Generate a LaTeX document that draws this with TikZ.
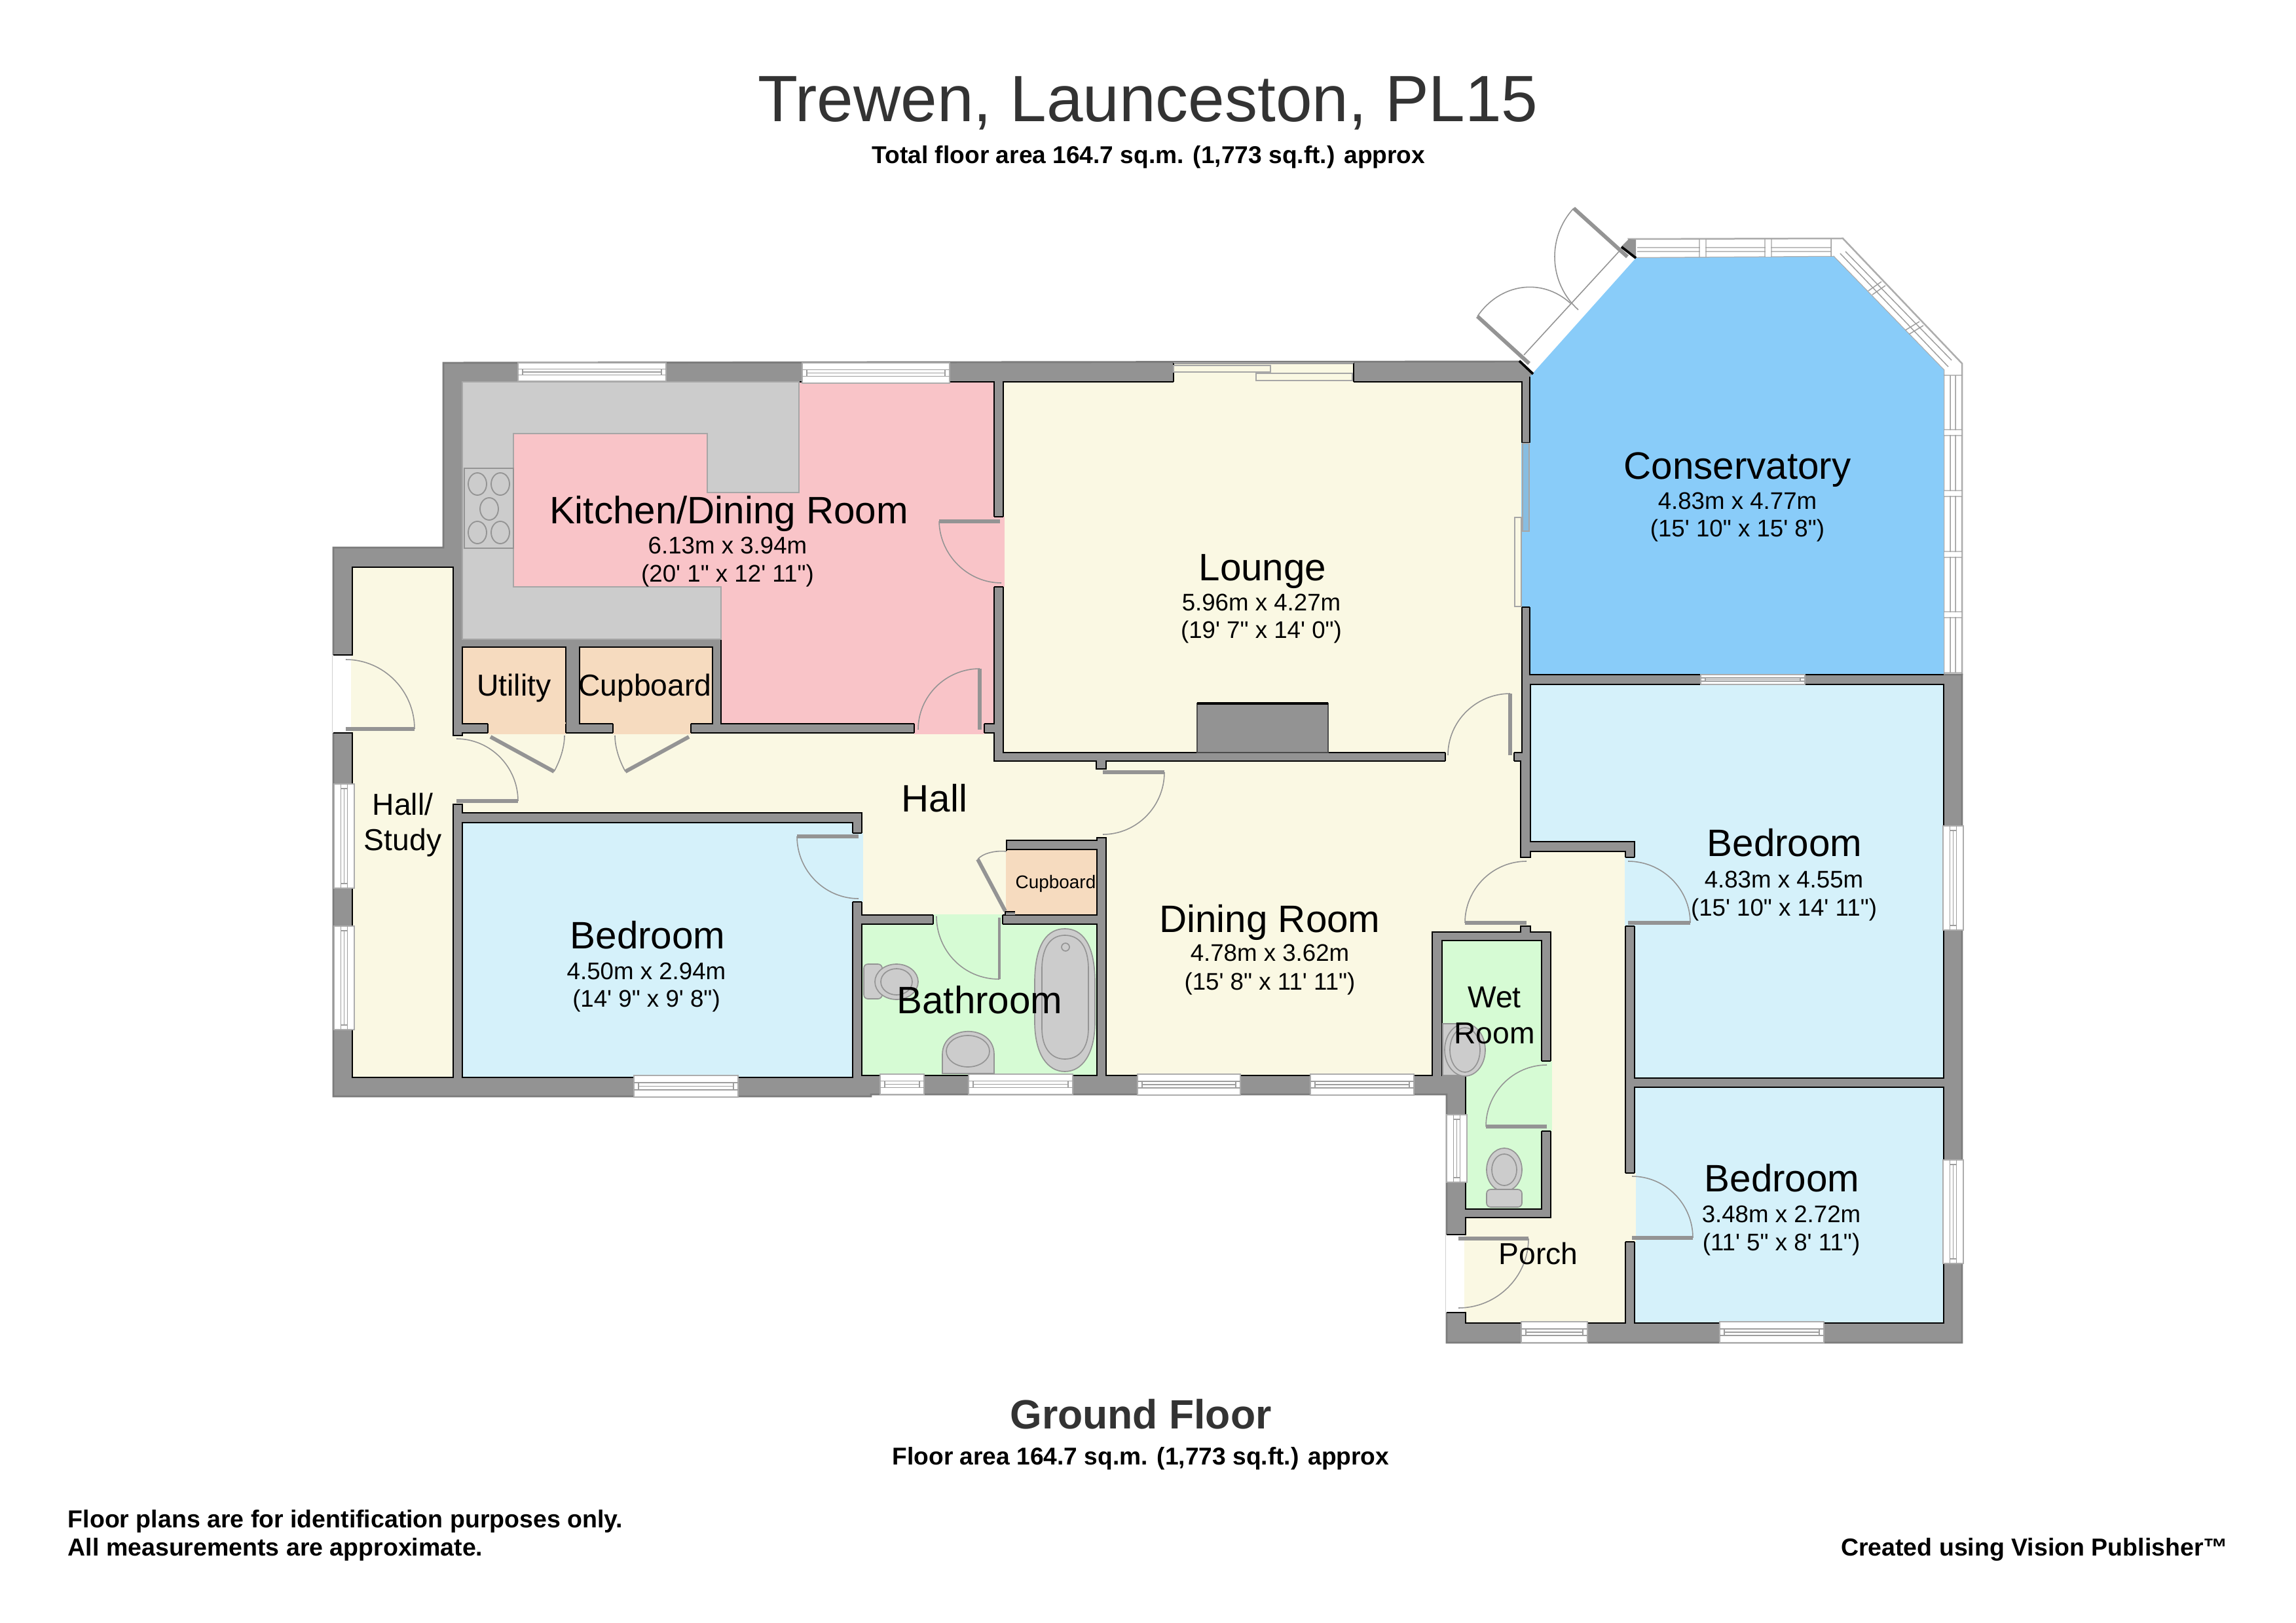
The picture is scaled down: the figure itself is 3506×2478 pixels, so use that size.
\documentclass[tikz,border=0pt]{standalone}
\usepackage{fontspec}
\setmainfont{Liberation Sans}
\definecolor{wallc}{HTML}{939393}
\definecolor{walle}{HTML}{7C7C7C}
\definecolor{creamc}{HTML}{FAF8E3}
\definecolor{pinkc}{HTML}{F9C4C8}
\definecolor{counterc}{HTML}{CCCCCC}
\definecolor{blueC}{HTML}{89CCF9}
\definecolor{lblueC}{HTML}{D5F1FA}
\definecolor{greenC}{HTML}{D6FBD4}
\definecolor{peachC}{HTML}{F6DBBF}
\definecolor{titlec}{HTML}{333333}
\newcommand\fq{\textquotesingle}
\newcommand\iq{\textquotedbl}
\tikzset{
  rm/.style={draw=black,line width=0.6pt,line join=miter},
  jamb/.style={draw=black,line width=0.6pt},
  winst/.style={fill=white,draw=black!32,line width=0.45pt},
  winl/.style={draw=black!38,line width=0.35pt},
  leafst/.style={draw=black!42,line width=1.4pt},
  swing/.style={draw=black!42,line width=0.38pt},
  fixt/.style={fill=counterc,draw=black!42,line width=0.4pt},
  big/.style={anchor=base,inner sep=0pt,font=\fontsize{14}{16}\selectfont},
  mid/.style={anchor=base,inner sep=0pt,font=\fontsize{11.1}{13}\selectfont},
  dimt/.style={anchor=base,inner sep=0pt,font=\fontsize{8.8}{10}\selectfont},
  tiny/.style={anchor=base,inner sep=0pt,font=\fontsize{6.7}{8}\selectfont},
  boldt/.style={anchor=base,inner sep=0pt,font=\fontsize{8.92}{10}\selectfont\bfseries},
  boldn/.style={inner sep=0pt,font=\fontsize{9}{10}\selectfont\bfseries},
}
\newcommand\gapV[5]{\fill[#1] (#2-1.5,#4) rectangle (#3+1.5,#5);
  \draw[jamb] (#2,#4)--(#3,#4) (#2,#5)--(#3,#5);}
\newcommand\gapH[5]{\fill[#1] (#2,#4-1.5) rectangle (#3,#5+1.5);
  \draw[jamb] (#2,#4)--(#2,#5) (#3,#4)--(#3,#5);}
\newcommand\winH[4]{\draw[winst] (#1,#2) rectangle (#3,#4);
  \pgfmathsetmacro\wa{#2+0.34*(#4-#2)}\pgfmathsetmacro\wb{#2+0.5*(#4-#2)}\pgfmathsetmacro\wc{#2+0.66*(#4-#2)}
  \pgfmathsetmacro\wl{#1+7}\pgfmathsetmacro\wr{#3-7}
  \draw[winl] (#1,\wa)--(#3,\wa) (#1,\wc)--(#3,\wc) (\wl,\wb)--(\wr,\wb) (\wl,\wa)--(\wl,\wc) (\wr,\wa)--(\wr,\wc);}
\newcommand\winV[4]{\draw[winst] (#1,#2) rectangle (#3,#4);
  \pgfmathsetmacro\wa{#1+0.34*(#3-#1)}\pgfmathsetmacro\wb{#1+0.5*(#3-#1)}\pgfmathsetmacro\wc{#1+0.66*(#3-#1)}
  \pgfmathsetmacro\wl{#2+7}\pgfmathsetmacro\wr{#4-7}
  \draw[winl] (\wa,#2)--(\wa,#4) (\wc,#2)--(\wc,#4) (\wb,\wl)--(\wb,\wr) (\wa,\wl)--(\wc,\wl) (\wa,\wr)--(\wc,\wr);}
\newcommand\door[6]{\draw[leafst] (#1,#2)--(#3,#4);
  \pgfmathsetmacro\ca{#3+0.55*(#5-#1)}\pgfmathsetmacro\cb{#4+0.55*(#6-#2)}
  \pgfmathsetmacro\cc{#5+0.55*(#3-#1)}\pgfmathsetmacro\cd{#6+0.55*(#4-#2)}
  \draw[swing] (#3,#4) .. controls (\ca,\cb) and (\cc,\cd) .. (#5,#6);}
\begin{document}
\begin{tikzpicture}[x=0.24pt,y=-0.24pt]
\useasboundingbox (0,0) rectangle (3506,2478);
\fill[white] (0,0) rectangle (3506,2478);
% conservatory glazing
\draw[winst,line width=0.6pt] (2487,365)--(2814,364)--(2996,555)--(2996,1030)--(2968,1030)--(2968,565)--(2800,392)--(2498,394)--cycle;
\draw[winl] (2500,378)--(2796,378) (2500,384)--(2796,384)
  (2595,365)--(2595,393) (2605,365)--(2605,393) (2695,365)--(2695,393) (2705,365)--(2705,393) (2796,365)--(2796,392)
  (2810,387)--(2975,560) (2818,384)--(2980,550)
  (2853,444)--(2873,430) (2859,450)--(2879,436) (2908,505)--(2931,491) (2914,511)--(2937,497)
  (2968,573)--(2996,573) (2978,573)--(2978,1027) (2986,573)--(2986,1027) (2968,1027)--(2996,1027)
  (2968,656)--(2996,656) (2968,665)--(2996,665) (2968,749)--(2996,749) (2968,758)--(2996,758)
  (2968,842)--(2996,842) (2968,851)--(2996,851) (2968,934)--(2996,934) (2968,943)--(2996,943);
\fill[white] (2596,366) rectangle (2604,392) (2696,366) rectangle (2704,392)
  (2969,657) rectangle (2995,664) (2969,750) rectangle (2995,757) (2969,843) rectangle (2995,850) (2969,935) rectangle (2995,942);
% house shell
\draw[fill=wallc,draw=walle,line width=0.7pt,line join=miter] (677,554)--(2320,552)--(2341,571)--(2336,585)--(2336,1030)--(2996,1030)--(2996,2050)--(2209,2050)--(2209,1671)--(1330,1671)--(1330,1674)--(509,1674)--(509,836)--(677,836)--cycle;
% conservatory
\fill[blueC] (2336,575)--(2498,394)--(2800,392)--(2968,565)--(2968,1030)--(2336,1030)--cycle;
\draw[jamb] (2336,575)--(2336,1030)--(2968,1030);
% door corner of the conservatory
\fill[wallc] (2487,365)--(2498,366)--(2498,394)--(2476,376)--cycle;
\draw[jamb,line width=0.9pt] (2320,551)--(2341,571) (2476,377)--(2498,394);
\draw[swing] (2327,542)--(2474,382);
% rooms
\draw[rm,fill=creamc] (538,866)--(692,866)--(692,1123)--(706,1123)--(706,1119)--(1518,1119)--(1518,1162)--(1674,1162)--(1674,1174)--(1689,1174)--(1689,1162)--(2207,1162)--(2207,1149)--(2312,1149)--(2312,1162)--(2322,1162)--(2322,1309)--(2337,1309)--(2337,1300)--(2482,1300)--(2482,2020)--(2238,2020)--(2238,1859)--(2368,1859)--(2368,1423)--(2337,1423)--(2337,1414)--(2322,1414)--(2322,1423)--(2187,1423)--(2187,1642)--(1689,1642)--(1689,1279)--(1675,1279)--(1675,1283)--(1537,1283)--(1537,1397)--(1316,1397)--(1316,1241)--(706,1241)--(706,1228)--(692,1228)--(692,1645)--(538,1645)--cycle;
\draw[rm,fill=pinkc] (706,583)--(1518,583)--(1518,1105)--(1101,1105)--(1101,976)--(706,976)--cycle;
\draw[rm,fill=peachC] (706,988) rectangle (864,1105);
\draw[rm,fill=peachC] (885,988) rectangle (1088,1105);
\draw[rm,fill=creamc] (1532,583) rectangle (2324,1149);
\draw[rm,fill=lblueC] (706,1256) rectangle (1302,1645);
\draw[rm,fill=greenC] (1316,1411) rectangle (1675,1642);
\draw[rm,fill=peachC] (1537,1297) rectangle (1675,1397);
\draw[rm,fill=lblueC] (2337,1045)--(2968,1045)--(2968,1646)--(2496,1646)--(2496,1285)--(2337,1285)--cycle;
\draw[rm,fill=lblueC] (2496,1660) rectangle (2968,2020);
\draw[rm,fill=greenC] (2202,1436)--(2354,1436)--(2354,1846)--(2238,1846)--(2238,1642)--(2202,1642)--cycle;
% kitchen worktop and hob
\draw[fill=counterc,draw=black!35,line width=0.45pt] (706,583)--(1220,583)--(1220,752)--(1080,752)--(1080,662)--(784,662)--(784,896)--(1101,896)--(1101,976)--(706,976)--cycle;
\draw[fill=counterc,draw=black!42,line width=0.45pt] (709,715) rectangle (784,837);
\foreach \hx/\hy in {729/739,764/739,747/777,729/813,764/813}
  \draw[draw=black!42,line width=0.45pt] (\hx,\hy) ellipse [x radius=14,y radius=17];
% fireplace
\draw[fill=wallc,draw=black!70,line width=0.3pt] (1828,1074) rectangle (2028,1149);
\draw[jamb,line width=0.9pt] (1828,1074)--(2028,1074);
% door openings
\gapV{pinkc}{1518}{1532}{789}{896}
\gapH{pinkc}{1396}{1503}{1105}{1119}
\gapH{peachC}{745}{864}{1105}{1119}
\gapH{peachC}{936}{1055}{1105}{1119}
\gapH{greenC}{1425}{1531}{1397}{1411}
\gapV{lblueC}{1302}{1316}{1272}{1377}
\gapH{creamc}{2207}{2312}{1149}{1162}
\gapV{lblueC}{2482}{2496}{1309}{1414}
\gapV{creamc}{2482}{2496}{1791}{1896}
\gapV{greenC}{2354}{2368}{1620}{1727}
\fill[peachC] (1535.5,1298.5) rectangle (1539,1391);
\fill[white] (508,1000) rectangle (536,1119);
\fill[creamc] (536,1001) rectangle (540,1118);
\draw[jamb] (509,1000)--(538,1000) (509,1119)--(538,1119);
\fill[white] (2208,1885) rectangle (2236,2004);
\fill[creamc] (2236,1886) rectangle (2240,2003);
\draw[jamb] (2209,1885)--(2238,1885) (2209,2004)--(2238,2004);
% slider to the conservatory
\fill[blueC] (2322.5,676) rectangle (2338,927);
\draw[jamb] (2324,676)--(2336,676) (2324,927)--(2336,927);
\draw[fill=blueC!80!gray,draw=black!35,line width=0.45pt] (2325,677) rectangle (2335,811);
\draw[fill=creamc,draw=black!35,line width=0.45pt] (2313,790) rectangle (2323,926);
% slider in the lounge
\fill[creamc] (1792,556) rectangle (2067,585);
\draw[jamb] (1792,554)--(1792,583) (2067,554)--(2067,583);
\draw[draw=black!35,line width=0.45pt] (1792,554)--(2067,554);
\draw[fill=creamc,draw=black!35,line width=0.45pt] (1792,558) rectangle (1940,568);
\draw[fill=creamc,draw=black!35,line width=0.45pt] (1918,570) rectangle (2065,581);
% small stub beside the cupboard
\fill[wallc] (1535,1392) rectangle (1550,1397);
\draw[jamb] (1535,1397)--(1535,1392)--(1550,1392);
% windows
\winH{791}{554}{1017}{582}
\winH{1225}{554}{1450}{585}
\winH{968}{1642}{1127}{1675}
\winH{1344}{1640}{1411}{1671}
\winH{1479}{1640}{1638}{1671}
\winH{1737}{1640}{1894}{1672}
\winH{2001}{1640}{2159}{1672}
\winH{2597}{1030}{2756}{1045}
\winH{2323}{2018}{2424}{2050}
\winH{2626}{2018}{2785}{2050}
\winV{510}{1197}{541}{1356}
\winV{510}{1414}{541}{1572}
\winV{2209}{1702}{2240}{1805}
\winV{2967}{1261}{2998}{1420}
\winV{2967}{1771}{2998}{1929}
% bathroom fittings
\draw[fixt] (1580,1500) .. controls (1580,1440) and (1600,1418) .. (1626,1418) .. controls (1652,1418) and (1672,1440) .. (1672,1500) -- (1672,1560) .. controls (1672,1610) and (1652,1636) .. (1626,1636) .. controls (1600,1636) and (1580,1610) .. (1580,1560) -- cycle;
\draw[fixt] (1591,1480) .. controls (1591,1445) and (1605,1428) .. (1626,1428) .. controls (1648,1428) and (1662,1445) .. (1662,1480) -- (1662,1570) .. controls (1662,1600) and (1648,1617) .. (1626,1617) .. controls (1605,1617) and (1591,1600) .. (1591,1570) -- cycle;
\draw[fixt] (1627,1446) ellipse [x radius=6,y radius=6];
\draw[fixt,rounded corners=1.5pt] (1319,1472) rectangle (1347,1525);
\draw[fixt] (1369,1499) ellipse [x radius=33,y radius=27];
\draw[fixt] (1369,1499) ellipse [x radius=24,y radius=20];
\draw[fixt] (1439,1639)--(1439,1610) .. controls (1439,1563) and (1518,1563) .. (1518,1610)--(1518,1639)--cycle;
\draw[fixt] (1478,1605) ellipse [x radius=33,y radius=24];
% wet room fittings
\draw[fixt] (2203,1563) rectangle (2236,1642);
\draw[fixt] (2237,1603) ellipse [x radius=31,y radius=40];
\draw[fixt] (2237,1603) ellipse [x radius=23,y radius=34];
\draw[fixt] (2297,1786) ellipse [x radius=27,y radius=33];
\draw[fixt] (2297,1786) ellipse [x radius=19,y radius=24];
\draw[fixt,rounded corners=1.5pt] (2270,1816) rectangle (2324,1843);
% doors
\door{1527}{796}{1434}{796}{1529}{890}
\door{1496}{1114}{1496}{1021}{1402}{1114}
\door{528}{1113}{633}{1113}{528}{1007}
\door{697}{1223}{791}{1223}{697}{1128}
\door{1311}{1277}{1217}{1277}{1311}{1372}
\door{1684}{1179}{1778}{1179}{1684}{1274}
\door{2306}{1153}{2306}{1059}{2211}{1153}
\door{2486}{1409}{2581}{1409}{2486}{1315}
\door{2331}{1409}{2237}{1409}{2331}{1315}
\door{2362}{1720}{2269}{1720}{2362}{1626}
\door{2227}{1891}{2334}{1891}{2227}{1997}
\door{2492}{1890}{2585}{1890}{2492}{1796}
\door{2335}{555}{2256}{483}{2398}{463}
\door{2485}{392}{2403}{318}{2410}{473}
\draw[leafst,line width=0.9pt] (1526,1401)--(1526,1495);
\draw[swing] (1526,1495) .. controls (1470,1495) and (1430,1450) .. (1430,1399);
\draw[leafst] (749,1125)--(846,1178);
\draw[swing] (846,1178) .. controls (856,1160) and (862,1140) .. (862,1123);
\draw[leafst] (1052,1125)--(955,1178);
\draw[swing] (955,1178) .. controls (945,1160) and (939,1140) .. (939,1123);
\draw[leafst] (1535,1391)--(1493,1312);
\draw[swing] (1493,1312) .. controls (1500,1303) and (1520,1298) .. (1537,1300);
% texts
\node[anchor=base,inner sep=0pt,text=titlec,font=\fontsize{24}{28}\selectfont] (title) at (1753,186) {Trewen, Launceston, PL15};
\node[boldt] (subtitle) at (1754,250) {Total floor area 164.7 sq.m. (1,773 sq.ft.) approx};
\node[big] (kname) at (1113,800) {Kitchen/Dining Room};
\node[dimt] (kd1) at (1111,846) {6.13m x 3.94m};
\node[dimt] (kd2) at (1111,889) {(20\fq{} 1\iq{} x 12\fq{} 11\iq{})};
\node[mid] (util) at (785,1062) {Utility};
\node[mid] (cup1) at (985,1062) {Cupboard};
\node[big] (hall) at (1427,1239) {Hall};
\node[mid] (hs1) at (615,1245) {Hall/};
\node[mid] (hs2) at (615,1298) {Study};
\node[big] (bed1) at (989,1448) {Bedroom};
\node[dimt] (bed1a) at (987,1495) {4.50m x 2.94m};
\node[dimt] (bed1b) at (987,1537) {(14\fq{} 9\iq{} x 9\fq{} 8\iq{})};
\node[big] (bath) at (1496,1547) {Bathroom};
\node[tiny] (cup2) at (1612,1356) {Cupboard};
\node[big] (lounge) at (1928,887) {Lounge};
\node[dimt] (la) at (1926,933) {5.96m x 4.27m};
\node[dimt] (lb) at (1926,975) {(19\fq{} 7\iq{} x 14\fq{} 0\iq{})};
\node[big] (cons) at (2653,732) {Conservatory};
\node[dimt] (ca) at (2653,778) {4.83m x 4.77m};
\node[dimt] (cb) at (2653,820) {(15\fq{} 10\iq{} x 15\fq{} 8\iq{})};
\node[big] (dine) at (1939,1423) {Dining Room};
\node[dimt] (da) at (1939,1467) {4.78m x 3.62m};
\node[dimt] (db) at (1939,1511) {(15\fq{} 8\iq{} x 11\fq{} 11\iq{})};
\node[big] (bed2) at (2725,1308) {Bedroom};
\node[dimt] (bed2a) at (2724,1355) {4.83m x 4.55m};
\node[dimt] (bed2b) at (2724,1398) {(15\fq{} 10\iq{} x 14\fq{} 11\iq{})};
\node[mid] (wet1) at (2282,1538) {Wet};
\node[mid] (wet2) at (2282,1593) {Room};
\node[big] (bed3) at (2721,1819) {Bedroom};
\node[dimt] (bed3a) at (2720,1866) {3.48m x 2.72m};
\node[dimt] (bed3b) at (2720,1909) {(11\fq{} 5\iq{} x 8\fq{} 11\iq{})};
\node[mid] (porch) at (2349,1930) {Porch};
\node[anchor=base,inner sep=0pt,text=titlec,font=\fontsize{15}{18}\selectfont\bfseries] (gf) at (1742,2181) {Ground Floor};
\node[boldt] (fa) at (1742,2236) {Floor area 164.7 sq.m. (1,773 sq.ft.) approx};
\node[boldn,anchor=base west] (n1) at (103,2332) {Floor plans are for identification purposes only.};
\node[boldn,anchor=base west] (n2) at (103,2375) {All measurements are approximate.};
\node[boldn,anchor=base east] (cr) at (3403,2375) {Created using Vision Publisher™};
\end{tikzpicture}
\end{document}
